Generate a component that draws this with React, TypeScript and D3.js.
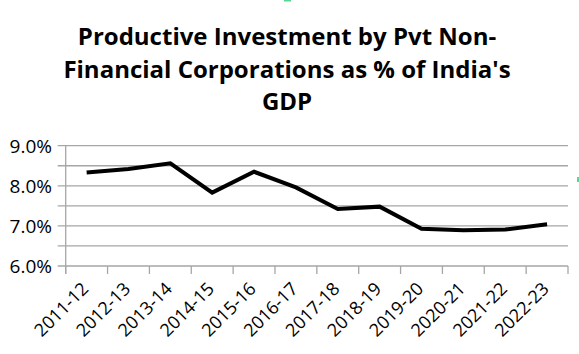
import React, { useRef, useEffect } from 'react';
import * as d3 from 'd3';

const years = ['2011-12', '2012-13', '2013-14', '2014-15', '2015-16', '2016-17', '2017-18', '2018-19', '2019-20', '2020-21', '2021-22', '2022-23'];
const investmentPct = [8.33, 8.42, 8.56, 7.83, 8.35, 7.96, 7.42, 7.48, 6.93, 6.89, 6.91, 7.04];
const yTicks = [6, 7, 8, 9];
const gridValues = [6, 6.5, 7, 7.5, 8, 8.5, 9];
const titleLines = ['Productive Investment by Pvt Non-', "Financial Corporations as % of India's", 'GDP'];

const width = 579;
const height = 354;
const font = "'Open Sans', 'Noto Sans', sans-serif";

const App = () => {
  const svgRef = useRef<SVGSVGElement>(null);

  useEffect(() => {
    const svg = d3.select(svgRef.current);
    svg.selectAll('*').remove();

    const margin = { top: 145.7, right: 11, bottom: 88, left: 65.7 };
    const x0 = margin.left;
    const x1 = width - margin.right;
    const yTop = margin.top;
    const yBottom = height - margin.bottom;

    svg.append('rect').attr('width', width).attr('height', height).attr('fill', '#fff');

    const xScale = d3.scaleBand().domain(years).range([x0, x1]);
    const yScale = d3.scaleLinear().domain([6, 9]).range([yBottom, yTop]);

    // Grid lines (incl. minor half-steps)
    svg.append('g')
      .selectAll('line')
      .data(gridValues)
      .enter()
      .append('line')
      .attr('x1', x0 - 8)
      .attr('x2', x1)
      .attr('y1', d => yScale(d))
      .attr('y2', d => yScale(d))
      .attr('stroke', '#a6a6a6')
      .attr('stroke-width', 1.3);

    // Vertical axis line
    svg.append('line')
      .attr('x1', x0).attr('x2', x0)
      .attr('y1', yTop).attr('y2', yBottom + 8)
      .attr('stroke', '#a6a6a6').attr('stroke-width', 1.3);

    // Category tick marks
    const tickXs = years.map(d => xScale(d) as number).concat([x1]);
    svg.append('g')
      .selectAll('line')
      .data(tickXs)
      .enter()
      .append('line')
      .attr('x1', d => d).attr('x2', d => d)
      .attr('y1', yBottom).attr('y2', yBottom + 8)
      .attr('stroke', '#a6a6a6').attr('stroke-width', 1.3);

    // Y tick labels
    svg.append('g')
      .selectAll('text')
      .data(yTicks)
      .enter()
      .append('text')
      .attr('x', 52)
      .attr('y', d => yScale(d) + 7)
      .attr('text-anchor', 'end')
      .attr('font-family', font)
      .attr('font-size', '19px')
      .attr('fill', '#000')
      .text(d => d3.format('.1f')(d) + '%');

    // X tick labels
    svg.append('g')
      .selectAll('text')
      .data(years)
      .enter()
      .append('text')
      .attr('transform', d => {
        const cx = (xScale(d) as number) + xScale.bandwidth() / 2;
        return `translate(${cx + 3},${yBottom + 24}) rotate(-45)`;
      })
      .attr('text-anchor', 'end')
      .attr('font-family', font)
      .attr('font-size', '18px')
      .attr('fill', '#000')
      .text(d => d);

    // Line
    const line = d3.line<number>()
      .x((_, i) => (xScale(years[i]) as number) + xScale.bandwidth() / 2)
      .y(d => yScale(d));

    svg.append('path')
      .datum(investmentPct)
      .attr('d', line)
      .attr('fill', 'none')
      .attr('stroke', '#000')
      .attr('stroke-width', 4)
      .attr('stroke-linejoin', 'miter');

    // Title
    svg.append('g')
      .selectAll('text')
      .data(titleLines)
      .enter()
      .append('text')
      .attr('x', 287)
      .attr('y', (_, i) => 45 + i * 32.5)
      .attr('text-anchor', 'middle')
      .attr('font-family', font)
      .attr('font-size', '24px')
      .attr('font-weight', 'bold')
      .attr('fill', '#000')
      .text(d => d);

    // small green artifacts from the source screenshot
    svg.append('rect').attr('x', 284).attr('y', 0).attr('width', 7).attr('height', 1.5).attr('fill', '#5ad68e');
    svg.append('rect').attr('x', 577).attr('y', 177).attr('width', 2).attr('height', 5).attr('fill', '#5ad68e');
  }, []);

  return (
    <svg
      ref={svgRef}
      width={width}
      height={height}
      style={{ position: 'absolute', left: 0, top: 0, display: 'block' }}
    />
  );
};

export default App;
